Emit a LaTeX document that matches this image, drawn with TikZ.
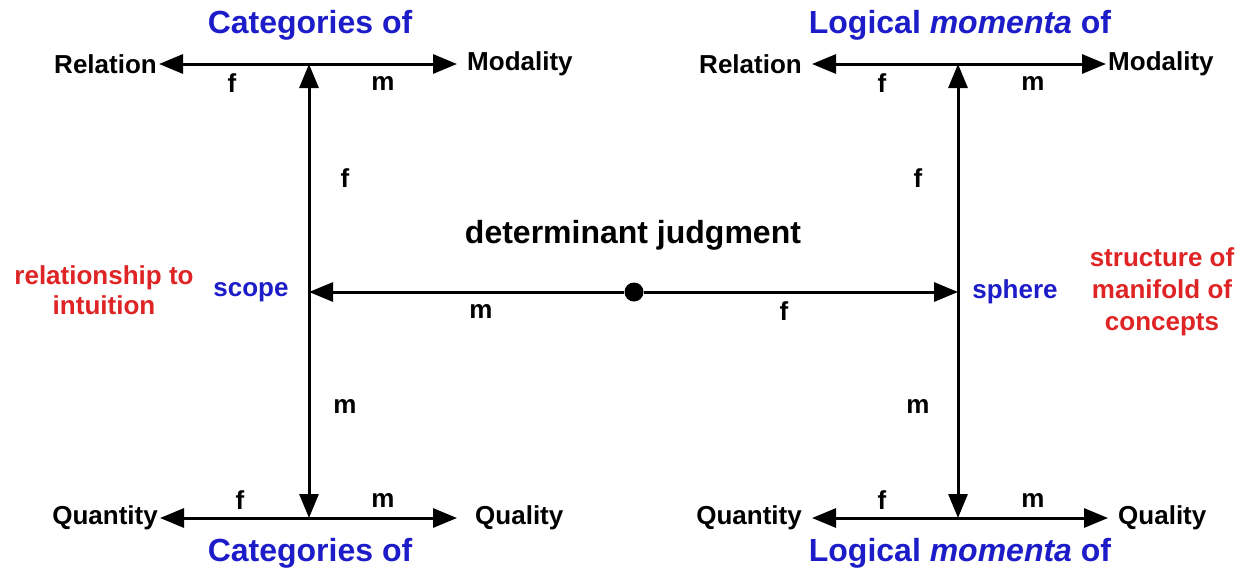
\documentclass[tikz,border=0pt]{standalone}
\usepackage{fontspec}
\setmainfont{Liberation Sans}
\usetikzlibrary{arrows.meta}
\definecolor{tblue}{RGB}{28,28,200}
\definecolor{tred}{RGB}{222,36,36}
\tikzset{
  lbl/.style={font=\fontsize{26}{30}\selectfont\bfseries, inner sep=2pt},
  ttl/.style={font=\fontsize{32}{36}\selectfont\bfseries, text=tblue, inner sep=0pt},
  side/.style={font=\fontsize{26}{32}\selectfont\bfseries, align=center, inner sep=0pt},
  dbl/.style={line width=3pt, {Triangle[length=24pt,width=19pt]}-{Triangle[length=24pt,width=19pt]}},
  sgl/.style={line width=3pt, -{Triangle[length=24pt,width=19pt]}},
}
\begin{document}
\begin{tikzpicture}[x=1pt,y=-1pt]
\useasboundingbox (0,0) rectangle (1247,571);
% hubs
\coordinate (TL) at (309,64);
\coordinate (BL) at (309,518);
\coordinate (ML) at (309,292);
\coordinate (TR) at (958,64);
\coordinate (BR) at (958,518);
\coordinate (MR) at (958,292);
\node[circle, fill=black, inner sep=0pt, minimum size=19pt] (dot) at (634,292) {};
% titles
\node[ttl] (t1) at (310,25) {Categories of};
\node[ttl] (t2) at (960,25) {Logical \textit{momenta} of};
\node[ttl] (t3) at (310,553) {Categories of};
\node[ttl] (t4) at (960,553) {Logical \textit{momenta} of};
% end labels
\node[lbl, anchor=east] (rel1) at (159,64) {Relation};
\node[lbl, anchor=west] (mod1) at (465,64) {Modality};
\node[lbl, anchor=east] (rel2) at (804,64) {Relation};
\node[lbl, anchor=west] (mod2) at (1106,64) {Modality};
\node[lbl, anchor=east] (qn1) at (160,518) {Quantity};
\node[lbl, anchor=west] (ql1) at (473,518) {Quality};
\node[lbl, anchor=east] (qn2) at (804,518) {Quantity};
\node[lbl, anchor=west] (ql2) at (1116,518) {Quality};
% connectors
\draw[dbl, shorten >=8pt] (rel1) -- (mod1);
\draw[dbl, shorten <=8pt] (rel2) -- (mod2);
\draw[dbl, shorten >=16pt] (qn1) -- (ql1);
\draw[dbl, shorten <=8pt, shorten >=8pt] (qn2) -- (ql2);
\draw[dbl] (TL) -- (BL);
\draw[dbl] (TR) -- (BR);
\draw[sgl] (dot) -- (ML);
\draw[sgl] (dot) -- (MR);
% f / m labels
\node[lbl] (f1) at (232,83) {f};
\node[lbl] (m1) at (383,83) {m};
\node[lbl] (f2) at (882,83) {f};
\node[lbl] (m2) at (1033,83) {m};
\node[lbl] (f3) at (240,500) {f};
\node[lbl] (m3) at (383,500) {m};
\node[lbl] (f4) at (882,500) {f};
\node[lbl] (m4) at (1033,500) {m};
\node[lbl] (f5) at (345,178) {f};
\node[lbl] (m5) at (345,406) {m};
\node[lbl] (f6) at (918,178) {f};
\node[lbl] (m6) at (918,406) {m};
\node[lbl] (m7) at (481,311) {m};
\node[lbl] (f7) at (784,311) {f};
% middle texts
\node[font=\fontsize{32}{36}\selectfont\bfseries] (dj) at (633,235) {determinant judgment};
\node[lbl, text=tblue] (scope) at (251,292) {scope};
\node[lbl, text=tblue] (sphere) at (1015,292) {sphere};
\node[side, text=tred, font=\fontsize{26}{30}\selectfont\bfseries] (rti) at (104,290) {relationship to\\intuition};
\node[side, text=tred] (smc) at (1162,292) {structure of\\manifold of\\concepts};
\end{tikzpicture}
\end{document}
